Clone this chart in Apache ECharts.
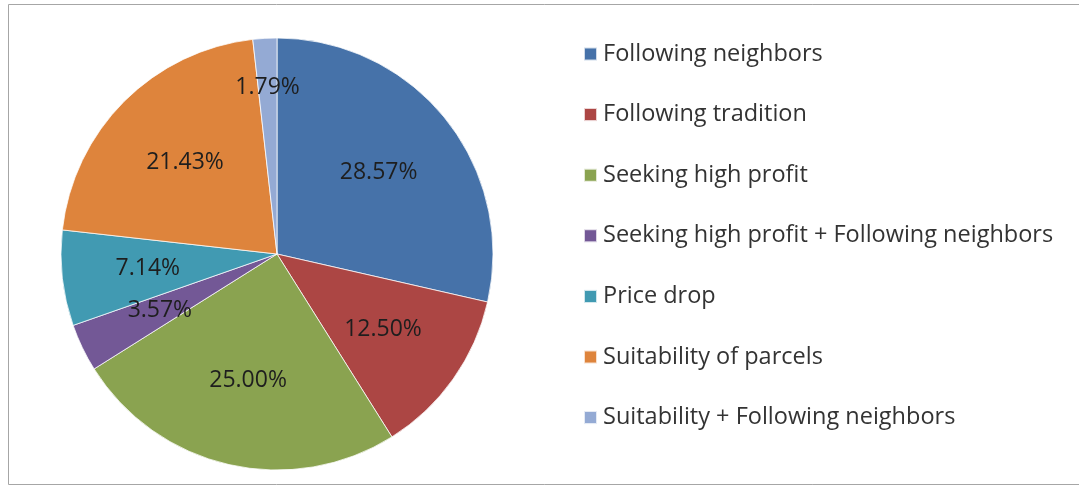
<!DOCTYPE html>
<html>
<head>
<meta charset="utf-8">
<script src="https://cdn.jsdelivr.net/npm/echarts@6/dist/echarts.min.js"></script>
<style>
html,body{margin:0;padding:0;background:#fff;}
#main{width:1079px;height:486px;}
</style>
</head>
<body>
<div id="main"></div>
<script>
const categories = [
  'Following neighbors',
  'Following tradition',
  'Seeking high profit',
  'Seeking high profit + Following neighbors',
  'Price drop',
  'Suitability of parcels',
  'Suitability + Following neighbors'
];
const values = [28.57, 12.50, 25.00, 3.57, 7.14, 21.43, 1.79];
const colors = ['#4672a9', '#ac4644', '#8aa350', '#735896', '#419ab2', '#de843c', '#94aad4'];
const outerLabelItems = ['Suitability + Following neighbors'];

const chart = echarts.init(document.getElementById('main'), null, {renderer: 'canvas'});
const center = [277, 254];
const R = 216;
const fontFam = '"Open Sans", Lato, sans-serif';

const mainData = categories.map((c, i) => ({name: c, value: values[i], itemStyle: {color: colors[i]}}));
const labelData = (show) => categories.map((c, i) => ({
  name: c, value: values[i],
  itemStyle: {color: 'rgba(0,0,0,0)'},
  label: {show: show(c)}
}));

const labelCommon = {
  position: 'inside',
  formatter: p => p.value.toFixed(2) + '%',
  color: '#1e1e1e',
  fontSize: 23,
  fontFamily: fontFam
};

chart.setOption({
  animation: false,
  graphic: [{
    type: 'rect', shape: {x: 8.5, y: 4.5, width: 1200, height: 480},
    style: {fill: 'none', stroke: '#a6a6a6', lineWidth: 1}, silent: true, z: 0
  }],
  legend: {
    orient: 'vertical',
    left: 578, top: 37,
    icon: 'rect',
    itemWidth: 13, itemHeight: 13,
    itemGap: 36.6,
    data: categories,
    selectedMode: false,
    textStyle: {fontSize: 23.5, fontFamily: fontFam, color: '#333', lineHeight: 24, padding: [0, 0, 0, 1]}
  },
  series: [
    {
      type: 'pie', name: 'main', center: center, radius: [0, R],
      startAngle: 90, clockwise: true,
      label: {show: false}, labelLine: {show: false},
      itemStyle: {borderColor: 'rgba(255,255,255,0.75)', borderWidth: 1},
      emphasis: {disabled: true},
      data: mainData
    },
    {
      type: 'pie', name: 'labelsA', center: center, radius: [38, R],
      startAngle: 90, clockwise: true, silent: true,
      label: labelCommon, labelLine: {show: false},
      emphasis: {disabled: true},
      data: labelData(c => outerLabelItems.indexOf(c) < 0)
    },
    {
      type: 'pie', name: 'labelsB', center: center, radius: [112, R],
      startAngle: 90, clockwise: true, silent: true,
      label: labelCommon, labelLine: {show: false},
      emphasis: {disabled: true},
      data: labelData(c => outerLabelItems.indexOf(c) >= 0)
    }
  ]
});
</script>
</body>
</html>
